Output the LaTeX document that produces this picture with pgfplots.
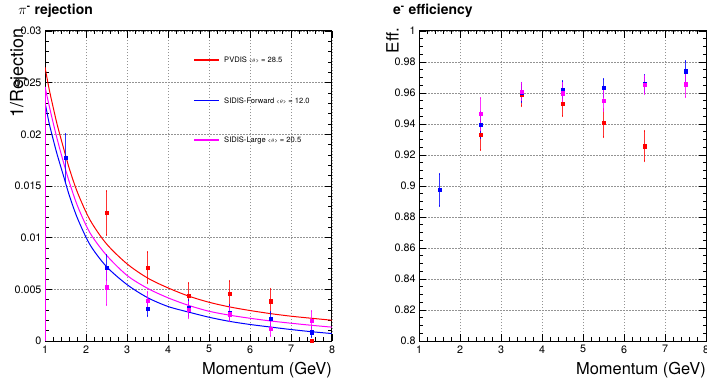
\documentclass[border=0pt]{standalone}
\usepackage{pgfplots}
\pgfplotsset{compat=1.18}
\usepackage{fontspec}
\setmainfont{TeX Gyre Heros}
\definecolor{rred}{RGB}{255,0,0}
\definecolor{rblue}{RGB}{0,0,255}
\definecolor{rmag}{RGB}{255,0,255}
\pgfplotsset{
  rootax/.style={
    scale only axis, width=287bp, height=310bp,
    xmin=1, xmax=8, xtick={1,2,3,4,5,6,7,8},
    minor x tick num=4, minor y tick num=4,
    tick align=inside, major tick length=7bp, minor tick length=3.5bp,
    xtick pos=both, ytick pos=both, xticklabel pos=lower, yticklabel pos=left,
    grid=major, grid style={gray!85, dash pattern=on 1.5bp off 1.5bp, line width=0.5bp},
    axis line style={line width=1bp},
    every tick/.style={black, line width=0.7bp},
    ticklabel style={font=\fontsize{10.8}{12}\selectfont},
    /pgf/number format/assume math mode=true,
    xticklabel style={yshift=-1bp},
    scaled y ticks=false,
  },
  pts/.style={only marks, mark=square*, mark size=1.6bp, #1, forget plot,
    error bars/.cd, y dir=both, y explicit,
    error bar style={line width=0.8bp, #1, opacity=0.8},
    error mark options={line width=0.8bp, mark size=1bp, #1}},
  crv/.style={color=#1, line width=1bp, no marks, smooth},
}
\begin{document}
\begin{tikzpicture}
\useasboundingbox (0,0) rectangle (707bp,379bp);
% ---------------- left panel ----------------
\begin{axis}[rootax, at={(45bp,38bp)}, anchor=south west,
  ymin=0, ymax=0.03,
  ytick={0,0.005,0.01,0.015,0.02,0.025,0.03},
  yticklabel style={/pgf/number format/fixed, /pgf/number format/precision=3},
]
\addplot[crv=rred] coordinates {
 (1,0.0265) (1.1,0.0244) (1.2,0.0226) (1.3,0.0209) (1.45,0.0187) (1.6,0.0166)
 (1.8,0.0143) (2.1,0.0117) (2.5,0.0094) (3,0.00747) (3.5,0.0061) (4,0.00514)
 (4.5,0.00435) (5,0.00375) (5.5,0.0033) (6,0.00295) (6.5,0.00265) (7,0.0024)
 (7.5,0.0022) (8,0.00201)};
\addplot[crv=rblue] coordinates {
 (1,0.0231) (1.1,0.0211) (1.2,0.0195) (1.3,0.0180) (1.45,0.0160) (1.6,0.0140)
 (1.8,0.0118) (2.1,0.0093) (2.5,0.0072) (3,0.00546) (3.5,0.0042) (4,0.00334)
 (4.5,0.0028) (5,0.0023) (5.5,0.0019) (6,0.0016) (6.5,0.00135) (7,0.00111)
 (7.5,0.0009) (8,0.00072)};
\addplot[crv=rmag] coordinates {
 (1,0.0246) (1.1,0.0228) (1.2,0.0211) (1.3,0.0195) (1.45,0.0173) (1.6,0.0153)
 (1.8,0.0130) (2.1,0.01045) (2.5,0.0083) (3,0.00635) (3.5,0.0051) (4,0.00418)
 (4.5,0.00345) (5,0.00288) (5.5,0.0025) (6,0.0022) (6.5,0.00194) (7,0.00172)
 (7.5,0.00152) (8,0.00134)};
\addplot[color=rmag, line width=1.2bp, no marks] coordinates {
 (1,0) (1,0.0246)};
\addplot[pts=rred] coordinates {
 (2.5,0.0124) +- (0,0.0021)
 (3.5,0.00708) +- (0,0.0015)
 (4.5,0.0044) +- (0,0.0012)
 (5.5,0.00456) +- (0,0.00125)
 (6.5,0.00385) +- (0,0.0012)
 (7.5,0) +- (0,0)};
\addplot[pts=rblue] coordinates {
 (1.5,0.0177) +- (0,0.0023)
 (2.5,0.0071) +- (0,0.0012)
 (3.5,0.0031) +- (0,0.0007)
 (4.5,0.0032) +- (0,0.0008)
 (5.5,0.0027) +- (0,0.0008)
 (6.5,0.00215) +- (0,0.0007)
 (7.5,0.00085) +- (0,0.0005)};
\addplot[pts=rmag] coordinates {
 (2.5,0.0052) +- (0,0.0017)
 (3.5,0.0039) +- (0,0.0008)
 (4.5,0.0030) +- (0,0.0008)
 (5.5,0.0026) +- (0,0.0007)
 (6.5,0.00118) +- (0,0.0007)
 (7.5,0.00198) +- (0,0.0009)};
\end{axis}
% ---------------- right panel ----------------
\begin{axis}[rootax, at={(419bp,38bp)}, anchor=south west,
  ymin=0.8, ymax=1,
  ytick={0.8,0.82,0.84,0.86,0.88,0.9,0.92,0.94,0.96,0.98,1},
  minor y tick num=3,
  yticklabel style={/pgf/number format/fixed, /pgf/number format/precision=2},
]
\addplot[pts=rred] coordinates {
 (2.5,0.9329) +- (0,0.0096)
 (3.5,0.9588) +- (0,0.0072)
 (4.5,0.9530) +- (0,0.0077)
 (5.5,0.9406) +- (0,0.0090)
 (6.5,0.9257) +- (0,0.0098)};
\addplot[pts=rblue] coordinates {
 (1.5,0.8976) +- (0,0.0103)
 (2.5,0.9394) +- (0,0.0085)
 (3.5,0.9603) +- (0,0.0060)
 (4.5,0.9622) +- (0,0.0055)
 (5.5,0.9633) +- (0,0.0056)
 (6.5,0.9660) +- (0,0.0055)
 (7.5,0.9740) +- (0,0.0065)};
\addplot[pts=rmag] coordinates {
 (2.5,0.9464) +- (0,0.0103)
 (3.5,0.9610) +- (0,0.0057)
 (4.5,0.9599) +- (0,0.0065)
 (5.5,0.9552) +- (0,0.0065)
 (6.5,0.9652) +- (0,0.0060)
 (7.5,0.9657) +- (0,0.0082)};
\end{axis}
% ---------------- legend (left panel) ----------------
\begin{scope}[font=\fontsize{7.6}{8}\selectfont]
\draw[rred, line width=1.1bp] (194bp,319bp) -- (219bp,319bp);
\node[anchor=base west, inner sep=0pt] at (224bp,316.3bp)
  {PVDIS {\fontsize{5.5}{6}\selectfont<$\theta$>} = 28.5};
\draw[rblue, line width=1.1bp] (194bp,278.3bp) -- (219bp,278.3bp);
\node[anchor=base west, inner sep=0pt] at (224bp,275.6bp)
  {SIDIS-Forward {\fontsize{5.5}{6}\selectfont<$\theta$>} = 12.0};
\draw[rmag, line width=1.1bp] (194bp,239bp) -- (219bp,239bp);
\node[anchor=base west, inner sep=0pt] at (224bp,236.3bp)
  {SIDIS-Large {\fontsize{5.5}{6}\selectfont<$\theta$>} = 20.5};
\end{scope}
% ---------------- titles and axis labels ----------------
\node[anchor=base west, inner sep=0pt, font=\fontsize{14}{16}\selectfont\bfseries]
  at (18.3bp,364bp) {$\pi$\textsuperscript{-} rejection};
\node[anchor=base west, inner sep=0pt, font=\fontsize{14}{16}\selectfont\bfseries]
  at (393bp,364bp) {e\textsuperscript{-} efficiency};
\node[anchor=base east, inner sep=0pt, font=\fontsize{16.5}{18}\selectfont]
  at (332bp,5bp) {Momentum (GeV)};
\node[anchor=base east, inner sep=0pt, font=\fontsize{16.5}{18}\selectfont]
  at (706bp,5bp) {Momentum (GeV)};
\node[anchor=base east, inner sep=0pt, rotate=90, font=\fontsize{18}{20}\selectfont]
  at (23bp,351bp) {1/Rejection};
\node[anchor=base east, inner sep=0pt, rotate=90, font=\fontsize{17}{19}\selectfont]
  at (398.5bp,351bp) {Eff.};
\end{tikzpicture}
\end{document}
